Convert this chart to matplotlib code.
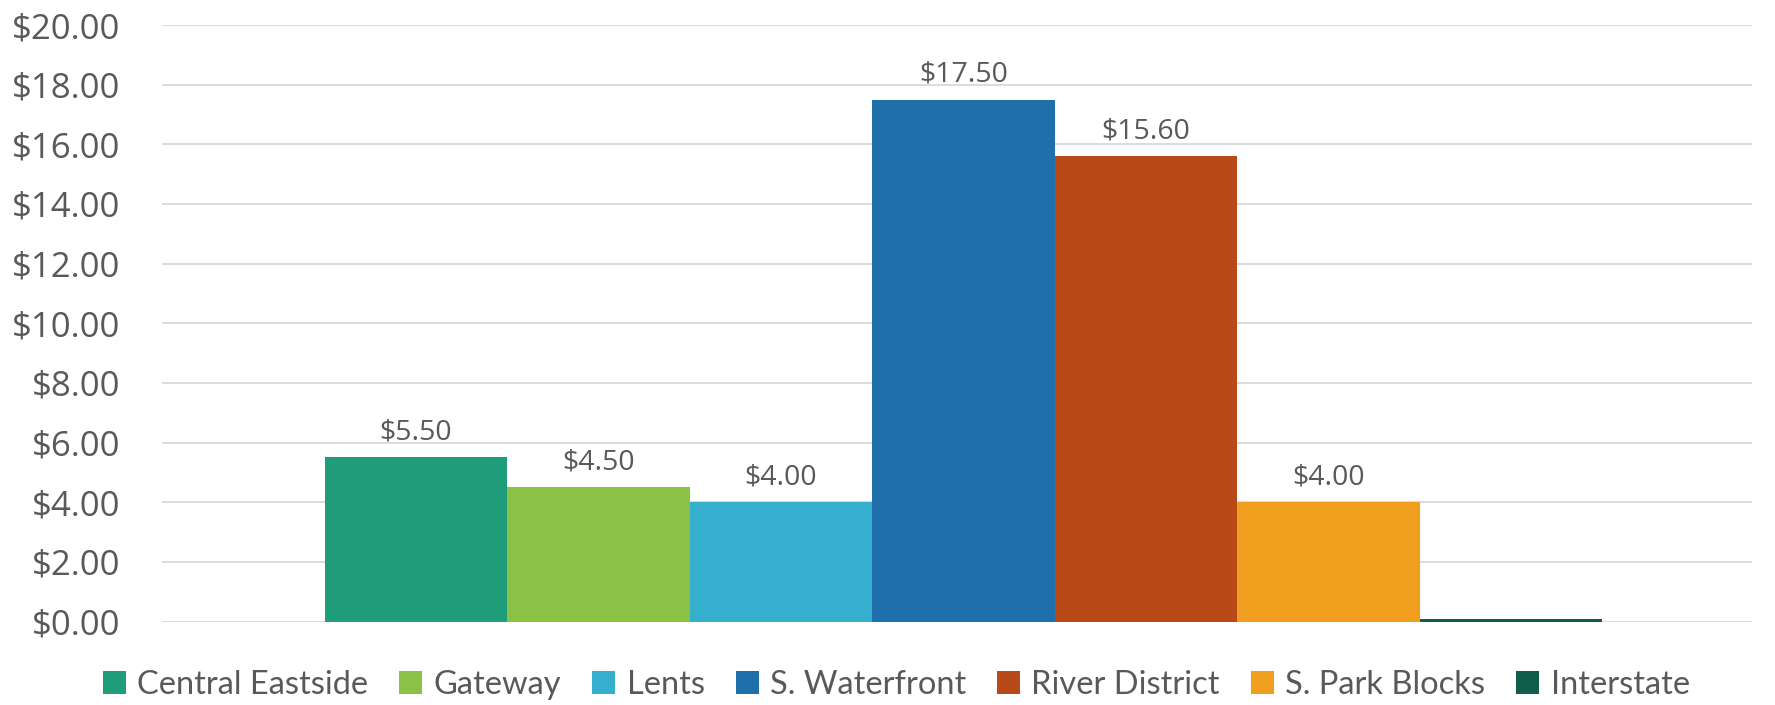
import matplotlib
matplotlib.use("Agg")
import matplotlib.pyplot as plt
from matplotlib.ticker import FuncFormatter, MultipleLocator

districts = ["Central Eastside", "Gateway", "Lents", "S. Waterfront",
             "River District", "S. Park Blocks", "Interstate"]
values = [5.50, 4.50, 4.00, 17.50, 15.60, 4.00, 0.08]
show_label = [True, True, True, True, True, True, False]
colors = ["#1F9C7A", "#8BC145", "#36AFCF", "#1F70AA",
          "#B84A19", "#F09E1E", "#125C4A"]

text_color = "#595959"
plt.rcParams["font.family"] = ["Open Sans", "DejaVu Sans"]

fig = plt.figure(figsize=(17.75, 7.05), dpi=100)
ax = fig.add_axes([0.0913, 0.1184, 0.8957, 0.8461])

for i, (name, v, c) in enumerate(zip(districts, values, colors)):
    bars = ax.bar(i, v, width=1.0, color=c, label=name, zorder=2)
    if show_label[i]:
        ax.bar_label(bars, labels=[f"${v:.2f}"], padding=8,
                     fontsize=20.5, color=text_color)

ax.set_xlim(-1.39, 7.32)
ax.set_ylim(0, 20)
ax.yaxis.set_major_locator(MultipleLocator(2))
ax.yaxis.set_major_formatter(FuncFormatter(lambda y, _: f"${y:.2f}"))
ax.tick_params(axis="y", length=0, pad=30, labelsize=25, labelcolor=text_color)
ax.set_xticks([])
ax.grid(axis="y", color="#D9D9D9", linewidth=1.3, zorder=0)
for s in ax.spines.values():
    s.set_visible(False)

fig.legend(loc="lower center", bbox_to_anchor=(0.505, -0.035), ncol=7,
           frameon=False, labelcolor=text_color,
           handlelength=0.7, handleheight=0.7, handletextpad=0.35,
           columnspacing=0.95, prop={"family": ["Lato", "DejaVu Sans"], "size": 23.5})

fig.savefig("out.png", dpi=100)
